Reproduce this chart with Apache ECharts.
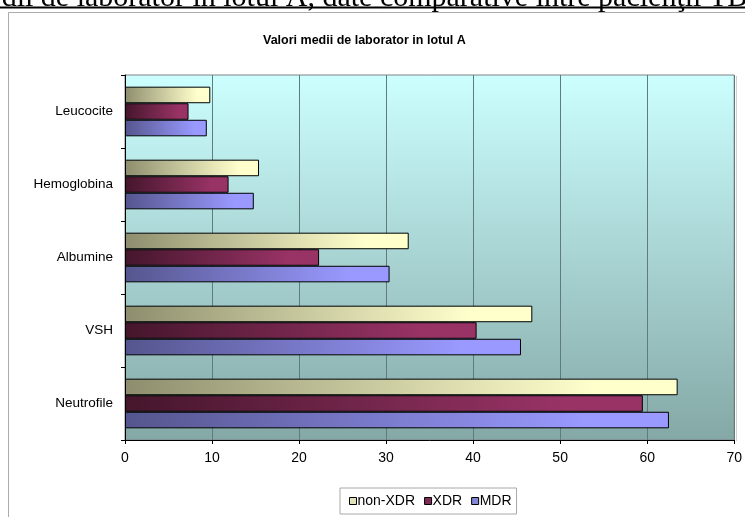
<!DOCTYPE html>
<html>
<head>
<meta charset="utf-8">
<script src="https://cdn.jsdelivr.net/npm/echarts@6/dist/echarts.min.js"></script>
<style>
  html, body { margin: 0; padding: 0; background: #ffffff; }
  #chart { width: 745px; height: 517px; }
</style>
</head>
<body>
<div id="chart"></div>
<script>
// Laboratory parameters, listed from the bottom of the axis upward
const categories = ['Neutrofile', 'VSH', 'Albumine', 'Hemoglobina', 'Leucocite'];

// Mean values per patient group
const nonXdrValues = [63.5, 46.8, 32.6, 15.4, 9.8];
const xdrValues    = [59.5, 40.4, 22.3, 11.9, 7.3];
const mdrValues    = [62.5, 45.5, 30.4, 14.8, 9.4];

const seriesNames = ['non-XDR', 'XDR', 'MDR'];
const xTicks = [0, 10, 20, 30, 40, 50, 60, 70];

function hGrad(dark, light) {
  return {
    type: 'linear', x: 0, y: 0, x2: 1, y2: 0,
    colorStops: [
      { offset: 0, color: dark },
      { offset: 0.85, color: light },
      { offset: 1, color: light }
    ]
  };
}

const palette = {
  'non-XDR': { dark: '#8E8E6E', light: '#FFFFCC', icon: '#E2E2B8' },
  'XDR':     { dark: '#45162C', light: '#993366', icon: '#7E2C55' },
  'MDR':     { dark: '#55558E', light: '#9999FF', icon: '#8585D8' }
};

const valuesByName = { 'non-XDR': nonXdrValues, 'XDR': xdrValues, 'MDR': mdrValues };

const chart = echarts.init(document.getElementById('chart'), null, { renderer: 'canvas' });

const option = {
  animation: false,
  backgroundColor: '#ffffff',
  title: {
    text: 'Valori medii de laborator in lotul A',
    left: 263,
    top: 34,
    padding: 0,
    textStyle: {
      fontFamily: 'Liberation Sans, Arial, sans-serif',
      fontSize: 12.5,
      fontWeight: 'bold',
      color: '#000000'
    }
  },
  legend: {
    data: seriesNames.map(n => ({ name: n, itemStyle: { color: palette[n].icon, borderColor: '#000', borderWidth: 1 } })),
    left: 340,
    top: 488,
    width: 180,
    padding: [6, 5, 6, 9],
    itemWidth: 7,
    itemHeight: 7,
    itemGap: 9,
    icon: 'rect',
    borderColor: '#A8A8A8',
    borderWidth: 1,
    backgroundColor: '#ffffff',
    textStyle: {
      fontFamily: 'Liberation Sans, Arial, sans-serif',
      fontSize: 14,
      color: '#000000',
      padding: [0, 0, 0, -4]
    }
  },
  grid: {
    left: 125,
    right: 10,
    top: 75,
    bottom: 77,
    show: true,
    borderColor: '#808080',
    borderWidth: 1,
    backgroundColor: {
      type: 'linear', x: 0, y: 0, x2: 0, y2: 1,
      colorStops: [
        { offset: 0, color: '#CCFFFF' },
        { offset: 1, color: '#84A8A6' }
      ]
    }
  },
  xAxis: {
    type: 'value',
    min: xTicks[0],
    max: xTicks[xTicks.length - 1],
    interval: 10,
    axisLine: { show: true, lineStyle: { color: '#000000', width: 1 } },
    axisTick: { show: true, length: 4, lineStyle: { color: '#000000' } },
    axisLabel: {
      margin: 11,
      fontFamily: 'Liberation Sans, Arial, sans-serif',
      fontSize: 14,
      color: '#000000'
    },
    splitLine: { show: true, lineStyle: { color: '#5F7B7B', width: 1 } }
  },
  yAxis: {
    type: 'category',
    data: categories,
    axisLine: { show: true, lineStyle: { color: '#000000', width: 1 } },
    axisTick: { show: true, length: 4, inside: false, lineStyle: { color: '#000000' } },
    axisLabel: {
      margin: 12,
      fontFamily: 'Liberation Sans, Arial, sans-serif',
      fontSize: 13.5,
      color: '#000000'
    },
    splitLine: { show: false }
  },
  graphic: [
    {
      type: 'rect',
      silent: true,
      shape: { x: 8.5, y: 12.5, width: 800, height: 600 },
      style: { fill: 'none', stroke: '#ABABAB', lineWidth: 1 },
      z: -10
    },
    {
      type: 'line',
      silent: true,
      shape: { x1: 736.5, y1: 76, x2: 736.5, y2: 441 },
      style: { stroke: '#D0D0D0', lineWidth: 1 }
    },
    {
      type: 'text',
      silent: true,
      x: -35,
      y: -17,
      style: {
        text: 'medii de laborator în lotul A, date comparative între pacienţii TB',
        font: '30px "Liberation Serif", "Times New Roman", serif',
        fill: '#000000',
        verticalAlign: 'top'
      }
    },
    {
      type: 'line',
      silent: true,
      shape: { x1: 0, y1: 7.5, x2: 745, y2: 7.5 },
      style: { stroke: '#000000', lineWidth: 2 }
    }
  ],
  series: seriesNames.map(name => ({
    name: name,
    type: 'bar',
    data: valuesByName[name],
    barGap: '0%',
    barCategoryGap: '32%',
    itemStyle: {
      color: hGrad(palette[name].dark, palette[name].light),
      borderColor: '#000000',
      borderWidth: 1
    },
    emphasis: { disabled: true }
  }))
};

chart.setOption(option);
</script>
</body>
</html>
